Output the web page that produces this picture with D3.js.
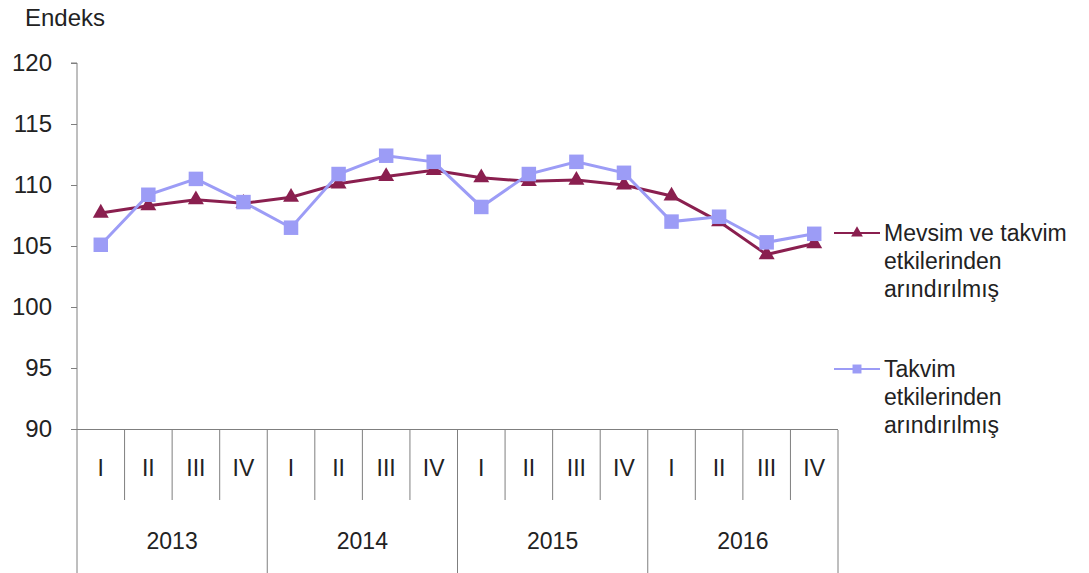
<!DOCTYPE html>
<html>
<head>
<meta charset="utf-8">
<script src="https://cdn.jsdelivr.net/npm/d3@7"></script>
<style>
  body { margin: 0; background: #fff; }
  text { font-family: "Liberation Sans", Arial, sans-serif; fill: #222; }
</style>
</head>
<body>
<div id="chart"></div>
<script>
// data
var years = ["2013", "2014", "2015", "2016"];
var quarters = ["I", "II", "III", "IV"];
var mevsim = [107.7, 108.3, 108.8, 108.5, 109.0, 110.1, 110.7, 111.2, 110.6, 110.3, 110.4, 110.0, 109.1, 107.0, 104.3, 105.2];
var takvim = [105.1, 109.2, 110.5, 108.6, 106.5, 110.9, 112.4, 111.9, 108.2, 110.9, 111.9, 111.0, 107.0, 107.4, 105.3, 106.0];
var yTicks = [90, 95, 100, 105, 110, 115, 120];

var svgWidth = 1089, svgHeight = 573;
var svg = d3.select("#chart").append("svg").attr("width", svgWidth).attr("height", svgHeight);

var cats = [];
years.forEach(function (y) { quarters.forEach(function (q) { cats.push(y + "-" + q); }); });

var x = d3.scaleBand().domain(cats).range([77, 838]);
var y = d3.scaleLinear().domain([90, 120]).range([429, 63]);
var axisColor = "#7f7f7f";

// y axis
var yAxis = svg.append("g").attr("transform", "translate(77,0)")
    .call(d3.axisLeft(y).tickValues(yTicks).tickSize(6).tickPadding(19));
yAxis.select(".domain").attr("stroke", axisColor).attr("d", "M-6,63H0V573");
yAxis.selectAll(".tick line").attr("stroke", axisColor);
yAxis.selectAll(".tick text").style("font-size", "24px").attr("fill", "#222");

svg.append("text").attr("x", 25).attr("y", 26).style("font-size", "24px").text("Endeks");

// x axis: quarters and years
svg.append("line").attr("x1", 71).attr("x2", 838).attr("y1", 429.5).attr("y2", 429.5)
    .attr("stroke", axisColor);

cats.forEach(function (c, i) {
    var xr = x(c) + x.bandwidth();
    var isYearEnd = (i % 4 === 3);
    svg.append("line").attr("x1", xr).attr("x2", xr).attr("y1", 430).attr("y2", isYearEnd ? 573 : 500)
        .attr("stroke", axisColor);
    svg.append("text").attr("x", x(c) + x.bandwidth() / 2).attr("y", 476)
        .attr("text-anchor", "middle").style("font-size", "23px")
        .text(c.split("-")[1]);
});
years.forEach(function (yr) {
    var x0 = x(yr + "-I"), x1 = x(yr + "-IV") + x.bandwidth();
    svg.append("text").attr("x", (x0 + x1) / 2).attr("y", 549)
        .attr("text-anchor", "middle").style("font-size", "23px").text(yr);
});

// series
var line = d3.line().x(function (d, i) { return x(cats[i]) + x.bandwidth() / 2; }).y(function (d) { return y(d); });
var tri = d3.symbol().type(d3.symbolTriangle).size(110);
var sq = d3.symbol().type(d3.symbolSquare).size(210);

var maroon = "#8a1f4f", blue = "#9c9cf6";

svg.append("path").datum(mevsim).attr("d", line).attr("fill", "none").attr("stroke", maroon).attr("stroke-width", 3);
svg.selectAll(".tri").data(mevsim).enter().append("path")
    .attr("d", tri).attr("fill", maroon)
    .attr("transform", function (d, i) { return "translate(" + (x(cats[i]) + x.bandwidth() / 2) + "," + y(d) + ")"; });

svg.append("path").datum(takvim).attr("d", line).attr("fill", "none").attr("stroke", blue).attr("stroke-width", 3);
svg.selectAll(".sq").data(takvim).enter().append("path")
    .attr("d", sq).attr("fill", blue)
    .attr("transform", function (d, i) { return "translate(" + (x(cats[i]) + x.bandwidth() / 2) + "," + y(d) + ")"; });

// legend
var legend = [
    { color: maroon, type: d3.symbolTriangle, size: 60, lines: ["Mevsim ve takvim", "etkilerinden", "arındırılmış"], y: 233 },
    { color: blue, type: d3.symbolSquare, size: 80, lines: ["Takvim", "etkilerinden", "arındırılmış"], y: 369 }
];
legend.forEach(function (l) {
    var g = svg.append("g");
    g.append("line").attr("x1", 834).attr("x2", 880).attr("y1", l.y).attr("y2", l.y)
        .attr("stroke", l.color).attr("stroke-width", 2);
    g.append("path").attr("d", d3.symbol().type(l.type).size(l.size))
        .attr("fill", l.color).attr("transform", "translate(857," + l.y + ")");
    l.lines.forEach(function (t, k) {
        g.append("text").attr("x", 884).attr("y", l.y + 8 + k * 28).style("font-size", "23px").text(t);
    });
});
</script>
</body>
</html>
